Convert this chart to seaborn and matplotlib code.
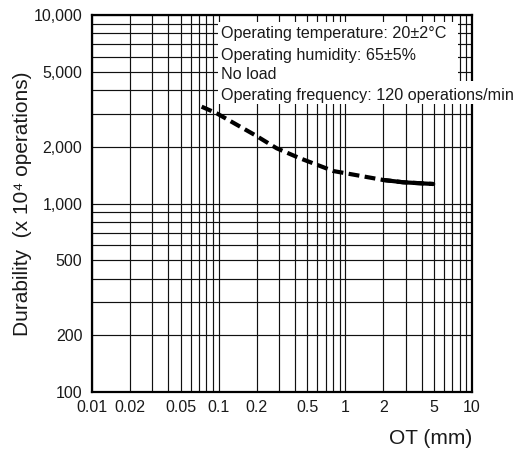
import matplotlib
matplotlib.use("Agg")
import matplotlib.pyplot as plt
import matplotlib.patches as mpatches
from matplotlib.ticker import FixedLocator, NullFormatter
import seaborn as sns
import pandas as pd

# ---- data ----
ot_mm = [0.0734, 0.0964, 0.193, 0.287, 0.438, 0.803, 1.99, 2.86, 4.94]
durability = [3263, 3010, 2309, 1963, 1738, 1487, 1333, 1296, 1269]

x_tick_vals = [0.01, 0.02, 0.05, 0.1, 0.2, 0.5, 1, 2, 5, 10]
x_tick_labels = ["0.01", "0.02", "0.05", "0.1", "0.2", "0.5", "1", "2", "5", "10"]
y_tick_vals = [100, 200, 500, 1000, 2000, 5000, 10000]
y_tick_labels = ["100", "200", "500", "1,000", "2,000", "5,000", "10,000"]

conditions = [
    "Operating temperature: 20\u00b12\u00b0C",
    "Operating humidity: 65\u00b15%",
    "No load",
    "Operating frequency: 120 operations/min",
]

sns.set_style("white")
plt.rcParams["font.family"] = ["Liberation Sans", "DejaVu Sans"]

W, H = 522, 450
fig = plt.figure(figsize=(W / 100, H / 100), dpi=100)
ax = fig.add_axes([92 / W, 1 - 392 / H, 380 / W, 377 / H])

df = pd.DataFrame({"OT": ot_mm, "Durability": durability})
sns.lineplot(data=df, x="OT", y="Durability", ax=ax, color="black",
             linewidth=3.0, linestyle=(0, (2.6, 1.3)), zorder=5)
tail = df[df["OT"] >= 1.9]
sns.lineplot(data=tail, x="OT", y="Durability", ax=ax, color="black",
             linewidth=3.0, zorder=5)

ax.set_xscale("log")
ax.set_yscale("log")
ax.set_xlim(0.01, 10)
ax.set_ylim(100, 10000)

x_grid = [m * 10.0 ** e for e in (-2, -1, 0) for m in range(1, 10)] + [10]
y_grid = [m * 10.0 ** e for e in (2, 3) for m in range(1, 10)] + [10000]
ax.xaxis.set_major_locator(FixedLocator(x_tick_vals))
ax.set_xticklabels(x_tick_labels)
ax.yaxis.set_major_locator(FixedLocator(y_tick_vals))
ax.set_yticklabels(y_tick_labels)
ax.xaxis.set_minor_locator(FixedLocator(x_grid))
ax.yaxis.set_minor_locator(FixedLocator(y_grid))
ax.xaxis.set_minor_formatter(NullFormatter())
ax.yaxis.set_minor_formatter(NullFormatter())
ax.grid(which="both", color="#111111", linewidth=0.85)
ax.tick_params(which="both", length=0, labelsize=11.5, colors="#1a1a1a")
ax.tick_params(axis="x", pad=6)
ax.tick_params(axis="y", pad=7)
for s in ax.spines.values():
    s.set_color("black")
    s.set_linewidth(1.6)

ax.set_xlabel("OT (mm)", fontsize=15, color="#1a1a1a")
ax.xaxis.set_label_coords(1.0, -0.097)
ax.xaxis.label.set_horizontalalignment("right")
ax.set_ylabel("Durability  (x 10\u2074 operations)", fontsize=15, color="#1a1a1a")
ax.yaxis.set_label_coords(-0.157, 0.5)

# white background behind the condition notes
fig.patches.append(mpatches.Rectangle((218 / W, 1 - 82 / H), 240 / W, 60 / H,
                                      transform=fig.transFigure,
                                      facecolor="white", edgecolor="none", zorder=3))
fig.patches.append(mpatches.Rectangle((218 / W, 1 - 104 / H), 304 / W, 23 / H,
                                      transform=fig.transFigure,
                                      facecolor="white", edgecolor="none", zorder=3))
baselines = [38, 60, 79, 100]
for txt, b in zip(conditions, baselines):
    fig.text(221 / W, 1 - b / H, txt, fontsize=11.6, color="#1a1a1a",
             ha="left", va="baseline", zorder=6)

fig.savefig("out.png", dpi=100, facecolor="white")
